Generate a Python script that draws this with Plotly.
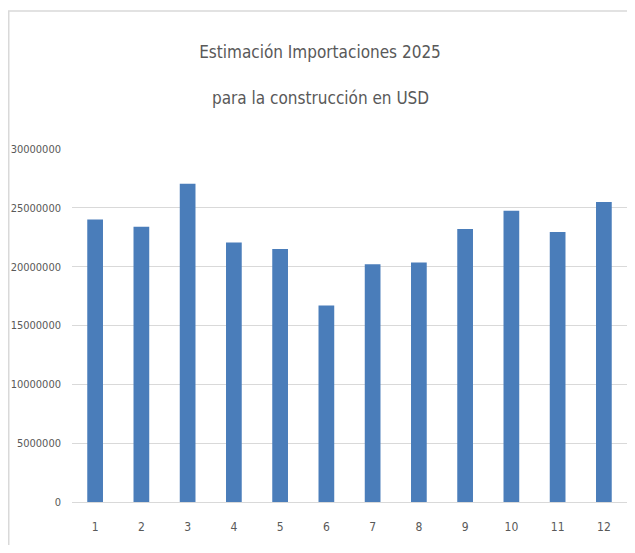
import plotly.graph_objects as go

months = [str(i) for i in range(1, 13)]
values = [24000000, 23400000, 27050000, 22050000, 21500000, 16700000,
          20200000, 20350000, 23200000, 24750000, 22950000, 25500000]
y_ticks = [0, 5000000, 10000000, 15000000, 20000000, 25000000, 30000000]
title_line1 = "Estimación Importaciones 2025"
title_line2 = "para la construcción en USD"

FONT = "DejaVu Sans Condensed, Lato, sans-serif"

fig = go.Figure(go.Bar(x=months, y=values, marker=dict(color="#4a7dba", line=dict(width=0))))

# figure sits inside an 8px body margin
W, H = 619, 537
L, R, T, B = 64, 0, 141, 43
pw, ph = W - L - R, H - T - B

def px_x(px):
    return (px - L) / pw

def px_y(py):
    return (H - B - py) / ph

fig.update_layout(
    width=W, height=H,
    margin=dict(l=L, r=R, t=T, b=B),
    paper_bgcolor="white", plot_bgcolor="white",
    bargap=0.66,
    showlegend=False,
    title=dict(text=title_line1, x=px_x(312), xref="paper", xanchor="center",
               y=1 - 44 / H, yanchor="middle",
               font=dict(family=FONT, size=17, color="#595959")),
    annotations=[dict(text=title_line2, xref="paper", yref="paper",
                      x=px_x(312), y=px_y(90), xanchor="center", yanchor="middle",
                      showarrow=False, font=dict(family=FONT, size=17, color="#595959"))],
    xaxis=dict(showgrid=False, showline=False, zeroline=False, ticks="",
               ticklabelstandoff=16,
               tickfont=dict(family=FONT, size=12, color="#595959")),
    yaxis=dict(range=[0, 30000000], tickvals=y_ticks, ticktext=[str(v) for v in y_ticks],
               showgrid=True, gridcolor="#d9d9d9", gridwidth=1,
               zeroline=True, zerolinecolor="#d9d9d9", zerolinewidth=1,
               showline=False, ticks="", ticklabelstandoff=10,
               tickfont=dict(family=FONT, size=11, color="#595959")),
    shapes=[
        dict(type="line", xref="paper", yref="paper",
             x0=px_x(0), x1=px_x(W), y0=px_y(3), y1=px_y(3),
             line=dict(color="#d9d9d9", width=1.5)),
        dict(type="line", xref="paper", yref="paper",
             x0=px_x(0.75), x1=px_x(0.75), y0=px_y(3), y1=px_y(H),
             line=dict(color="#d9d9d9", width=1.5)),
    ],
)

fig.write_html("out.html")
